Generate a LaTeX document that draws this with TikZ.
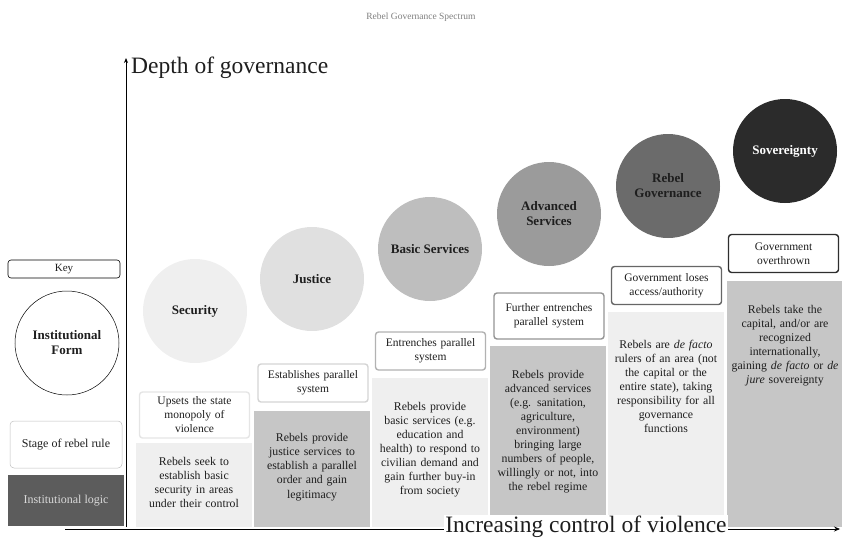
\documentclass[tikz,border=0pt]{standalone}
\usepackage{fontspec}
\setmainfont{Liberation Serif}
\usetikzlibrary{positioning, arrows.meta}
\definecolor{inkMain}{HTML}{1E1E1E}
\definecolor{titleGray}{HTML}{7E7E7E}
\definecolor{formOne}{HTML}{EFEFEF}
\definecolor{formTwo}{HTML}{E0E0E0}
\definecolor{formThree}{HTML}{BEBEBE}
\definecolor{formFour}{HTML}{9B9B9B}
\definecolor{formFive}{HTML}{6B6B6B}
\definecolor{formSix}{HTML}{2B2B2B}
\definecolor{logicLight}{HTML}{EFEFEF}
\definecolor{logicDark}{HTML}{C6C6C6}
\definecolor{keyLogic}{HTML}{5C5C5C}

\tikzset{
  stagebox/.style={draw, rounded corners=3pt, line width=1.4pt, fill=white,
    text width=106pt, align=center, inner sep=2pt, minimum height=38pt,
    text=inkMain, font=\fontsize{11.5}{14}\selectfont},
  formcirc/.style={circle, minimum size=104pt, inner sep=0pt, align=center,
    text=inkMain, font=\bfseries\fontsize{13}{15}\selectfont},
  logicbar/.style={minimum width=116pt, inner sep=0pt, anchor=south},
  logictext/.style={text width=114pt, align=center, anchor=north, inner sep=0pt,
    text=inkMain, font=\fontsize{11.8}{14}\selectfont}
}

\begin{document}
\begin{tikzpicture}[x=1pt, y=1pt]
  \useasboundingbox (0,0) rectangle (842,-539);

  \node[text=titleGray, font=\fontsize{9.5}{11}\selectfont] (title) at (421,-17) {Rebel Governance Spectrum};

  % key column
  \node[draw, rounded corners=3pt, line width=0.6pt, minimum width=112pt, minimum height=18pt,
        inner sep=0pt, text=inkMain, font=\fontsize{11}{13}\selectfont] (key) at (64,-269) {Key};
  \node[formcirc, draw, line width=0.5pt, fill=white] (keyform) at (67,-343) {Institutional\\Form};
  \node[draw=black!25, rounded corners=4pt, line width=0.5pt, minimum width=112pt, minimum height=47pt,
        inner sep=0pt, text=inkMain, font=\fontsize{12}{14}\selectfont] (keystage) at (66,-444.5) {Stage of rebel rule};
  \node[fill=keyLogic, minimum width=116pt, minimum height=51pt, inner sep=0pt, text=black!15,
        font=\fontsize{12}{14}\selectfont] (keylogic) at (66,-500.5) {Institutional logic};

  % institutional logic bars
  \node[logicbar, fill=logicLight, minimum height=84pt] (logic1) at (194,-527) {};
  \node[logicbar, fill=logicDark, minimum height=116pt] (logic2) at (312,-527) {};
  \node[logicbar, fill=logicLight, minimum height=149pt] (logic3) at (430,-527) {};
  \node[logicbar, fill=logicDark, minimum height=181pt] (logic4) at (548,-527) {};
  \node[logicbar, fill=logicLight, minimum height=215pt] (logic5) at (666,-527) {};
  \node[logicbar, fill=logicDark, minimum height=246pt] (logic6) at (785,-527) {};

  \node[logictext] (logic1txt) at ([yshift=-15pt]logic1.north) {Rebels seek to\\establish basic\\security in areas\\under their control};
  \node[logictext] (logic2txt) at ([yshift=-23pt]logic2.north) {Rebels provide\\justice services to\\establish a parallel\\order and gain\\legitimacy};
  \node[logictext] (logic3txt) at ([yshift=-25pt]logic3.north) {Rebels provide\\basic services (e.g.\\education and\\health) to respond to\\civilian demand and\\gain further buy-in\\from society};
  \node[logictext] (logic4txt) at ([yshift=-25pt]logic4.north) {Rebels provide\\advanced services\\(e.g. sanitation,\\agriculture,\\environment)\\bringing large\\numbers of people,\\willingly or not, into\\the rebel regime};
  \node[logictext] (logic5txt) at ([yshift=-28pt]logic5.north) {Rebels are \textit{de facto}\\rulers of an area (not\\the capital or the\\entire state), taking\\responsibility for all\\governance\\functions};
  \node[logictext] (logic6txt) at ([yshift=-25pt]logic6.north) {Rebels take the\\capital, and/or are\\recognized\\internationally,\\gaining \textit{de facto} or \textit{de}\\\textit{jure} sovereignty};

  % stages of rebel rule
  \node[stagebox, draw=black!10, minimum height=46pt] (stage1) at (194.5,-415) {Upsets the state\\monopoly of\\violence};
  \node[stagebox, draw=black!17] (stage2) at (313,-383) {Establishes parallel\\system};
  \node[stagebox, draw=black!30] (stage3) at (430.5,-351) {Entrenches parallel\\system};
  \node[stagebox, draw=black!42, minimum height=46pt] (stage4) at (549,-316) {Further entrenches\\parallel system};
  \node[stagebox, draw=black!60] (stage5) at (666.5,-285.5) {Government loses\\access/authority};
  \node[stagebox, draw=black!82] (stage6) at (783.5,-253.5) {Government\\overthrown};

  % institutional forms
  \node[formcirc, fill=formOne] (security) at (195,-311) {Security};
  \node[formcirc, fill=formTwo] (justice) at (312,-279) {Justice};
  \node[formcirc, fill=formThree] (basic) at (430,-249) {Basic Services};
  \node[formcirc, fill=formFour] (advanced) at (549,-214) {Advanced\\Services};
  \node[formcirc, fill=formFive] (rebelgov) at (668,-186) {Rebel\\Governance};
  \node[formcirc, fill=formSix, text=white] (sovereignty) at (785,-151) {Sovereignty};

  % axes
  \coordinate (yfoot) at (126,-527);
  \coordinate (ytop) at (126,-58);
  \coordinate (xfoot) at (65,-529);
  \coordinate (xend) at (840,-529);
  \draw[line width=0.8pt, -{Stealth[length=5pt, width=4pt]}] (yfoot) -- (ytop);
  \draw[line width=0.8pt, -{Stealth[length=6pt, width=5pt]}] (xfoot) -- (xend);
  \node[anchor=west, inner sep=0pt, text=inkMain, font=\fontsize{23.5}{26}\selectfont] (depth) at (131,-68) {Depth of governance};
  \node[fill=white, inner sep=1pt, text=inkMain, font=\fontsize{23.5}{26}\selectfont] (control) at (586,-527) {Increasing control of violence};
\end{tikzpicture}
\end{document}
